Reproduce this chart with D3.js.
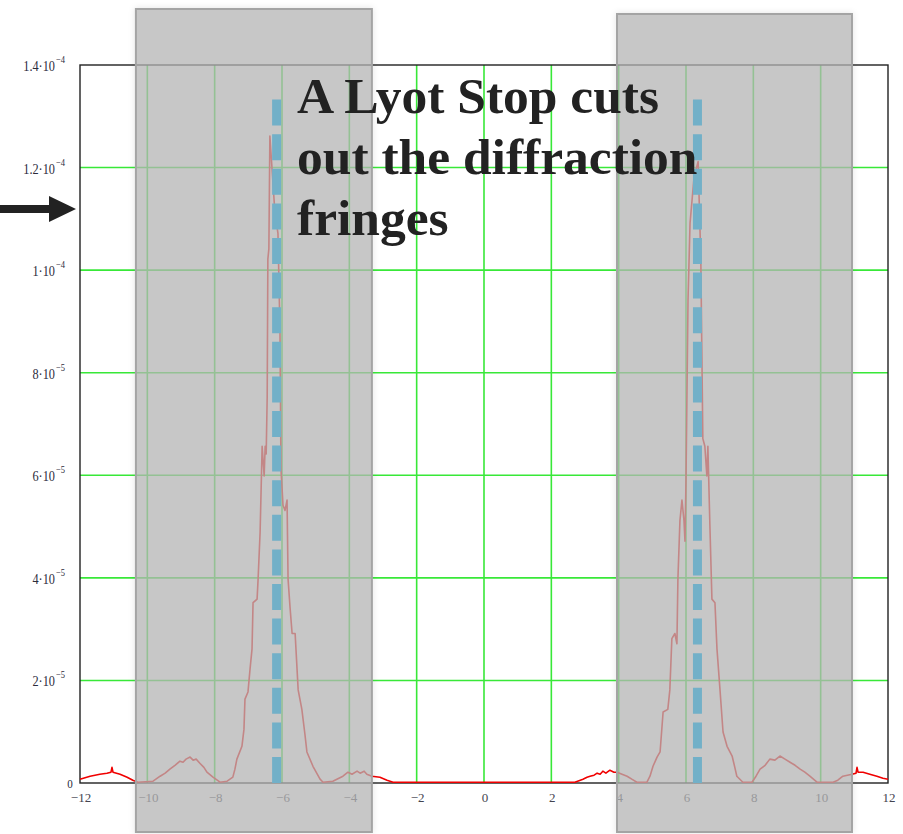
<!DOCTYPE html>
<html>
<head>
<meta charset="utf-8">
<script src="https://cdn.jsdelivr.net/npm/d3@7"></script>
<style>
  html, body { margin: 0; padding: 0; background: #fff; }
  svg { display: block; }
</style>
</head>
<body>
<div id="chart"></div>
<script>
// Pupil-plane intensity profile after the focal-plane mask
const positions = [
  -12.00, -11.70, -11.41, -11.20, -11.08, -11.05, -11.02, -10.81, -10.60, -10.43, -10.28,
  -9.83, -9.62, -9.47, -9.33, -9.18, -9.03, -8.94, -8.85, -8.73, -8.64, -8.55, -8.44, -8.32, -8.23, -8.05,
  -7.84, -7.63, -7.46, -7.40, -7.34, -7.19, -7.13, -7.10, -7.01, -6.95, -6.89, -6.86, -6.74, -6.71, -6.65,
  -6.59, -6.53, -6.50, -6.47, -6.44, -6.42, -6.39, -6.36, -6.30, -6.21, -6.12, -6.06, -6.03, -5.97, -5.91,
  -5.85, -5.82, -5.76, -5.70, -5.61, -5.52, -5.41, -5.32, -5.26, -5.08, -4.87, -4.78, -4.49, -4.19, -4.04,
  -3.92, -3.77, -3.68, -3.56, -3.48, -3.33, -3.09, -2.88, -2.70,
  2.70, 2.94, 3.06, 3.15, 3.27, 3.36, 3.45, 3.53, 3.62, 3.74, 3.86, 3.95, 4.10, 4.25, 4.39, 4.54,
  4.84, 4.93, 5.02, 5.14, 5.23, 5.32, 5.46, 5.52, 5.58, 5.67, 5.73, 5.76, 5.82, 5.88, 5.94, 5.97,
  6.00, 6.06, 6.12, 6.24, 6.36, 6.44, 6.50, 6.56, 6.62, 6.65, 6.71, 6.77, 6.86, 6.92, 7.01, 7.10,
  7.22, 7.37, 7.45, 7.51, 7.69, 7.96, 8.08, 8.20, 8.35, 8.49, 8.64, 8.79, 8.94, 9.09, 9.24, 9.39,
  9.53, 9.68, 9.89, 10.37, 10.51, 10.66, 10.93, 11.05, 11.08, 11.11, 11.26, 11.46, 11.67, 11.85, 12.00
];
const intensity = [
  0.59e-6, 1.17e-6, 1.56e-6, 1.76e-6, 1.95e-6, 2.9e-6, 1.95e-6, 1.56e-6, 0.98e-6, 0.39e-6, 0,
  0.2e-6, 1.17e-6, 1.76e-6, 2.54e-6, 3.3e-6, 4.1e-6, 3.9e-6, 4.5e-6, 4.9e-6, 4.3e-6, 4.5e-6, 3.7e-6, 2.9e-6, 1.95e-6, 0.98e-6,
  0, 0.2e-6, 0.98e-6, 2.5e-6, 4.5e-6, 7.0e-6, 1.03e-5, 1.62e-5, 1.76e-5, 2.2e-5, 2.6e-5, 3.5e-5, 3.57e-5, 3.96e-5, 4.88e-5,
  6.55e-5, 5.97e-5, 6.55e-5, 6.4e-5, 7.5e-5, 1.02e-4, 1.04e-4, 1.26e-4, 1.2e-4, 1.11e-4, 1.07e-4, 8.8e-5, 6.1e-5, 5.4e-5, 5.3e-5,
  5.5e-5, 3.96e-5, 3.4e-5, 2.9e-5, 2.9e-5, 1.8e-5, 1.42e-5, 9.4e-6, 5.9e-6, 3.1e-6, 0.59e-6, 0, 0.2e-6, 1.17e-6, 1.95e-6,
  1.56e-6, 2.15e-6, 1.76e-6, 2.15e-6, 1.56e-6, 1.17e-6, 0.98e-6, 0.39e-6, 0,
  0, 0.59e-6, 0.98e-6, 1.17e-6, 1.37e-6, 1.76e-6, 1.56e-6, 2.15e-6, 1.76e-6, 2.34e-6, 1.95e-6, 1.95e-6, 1.56e-6, 1.17e-6, 0.59e-6, 0,
  0, 1.17e-6, 3.1e-6, 4.9e-6, 5.9e-6, 1.37e-5, 1.42e-5, 1.8e-5, 2.8e-5, 2.9e-5, 2.7e-5, 3.96e-5, 5.1e-5, 5.5e-5, 5.1e-5, 4.7e-5,
  5.9e-5, 9.4e-5, 1.09e-4, 1.18e-4, 1.21e-4, 1.02e-4, 6.7e-5, 6.55e-5, 5.97e-5, 6.55e-5, 5.0e-5, 3.57e-5, 3.5e-5, 2.6e-5, 1.8e-5, 9.8e-6,
  7.0e-6, 5.1e-6, 2.9e-6, 1.17e-6, 0, 0, 1.17e-6, 2.54e-6, 3.3e-6, 4.5e-6, 4.3e-6, 5.1e-6, 4.5e-6, 3.9e-6, 3.3e-6, 2.54e-6,
  1.95e-6, 1.17e-6, 0, 0, 0.39e-6, 1.17e-6, 1.56e-6, 1.76e-6, 2.9e-6, 1.95e-6, 1.95e-6, 1.56e-6, 1.17e-6, 0.78e-6, 0.59e-6
];

// Axis ticks
const xTicks = [-12, -10, -8, -6, -4, -2, 0, 2, 4, 6, 8, 10, 12];
const yTicks = [0, 2e-5, 4e-5, 6e-5, 8e-5, 1e-4, 1.2e-4, 1.4e-4];

// Lyot stop: blocked regions and the pupil-edge markers
const blockedFrom = [-10.34, 3.95];
const blockedTo = [-3.33, 10.93];
const edgeMarks = [-6.16, 6.34];
const edgeMarkTop = 1.345e-4;

const noteLines = ["A Lyot Stop cuts", "out the diffraction", "fringes"];

const W = 903, H = 834;
const M = { left: 80, right: 888, top: 65, bottom: 783 };

const svg = d3.select("#chart").append("svg")
  .attr("width", W).attr("height", H)
  .style("background", "#fff");

const defs = svg.append("defs");
const shadow = defs.append("filter").attr("id", "soft")
  .attr("x", "-10%").attr("y", "-5%").attr("width", "120%").attr("height", "110%");
shadow.append("feDropShadow").attr("dx", 0).attr("dy", 0)
  .attr("stdDeviation", 3).attr("flood-color", "#000").attr("flood-opacity", 0.12);

const x = d3.scaleLinear().domain([-12, 12]).range([M.left, M.right]);
const y = d3.scaleLinear().domain([0, 1.4e-4]).range([M.bottom, M.top]);

// Grid
const gridColor = "#38e838";
svg.append("g").selectAll("line").data(xTicks.slice(1, -1)).join("line")
  .attr("x1", d => x(d)).attr("x2", d => x(d))
  .attr("y1", M.top).attr("y2", M.bottom)
  .attr("stroke", gridColor).attr("stroke-width", 1.6);
svg.append("g").selectAll("line").data(yTicks.slice(1, -1)).join("line")
  .attr("x1", M.left).attr("x2", M.right)
  .attr("y1", d => y(d)).attr("y2", d => y(d))
  .attr("stroke", gridColor).attr("stroke-width", 1.6);

// Frame
svg.append("rect")
  .attr("x", M.left).attr("y", M.top)
  .attr("width", M.right - M.left).attr("height", M.bottom - M.top)
  .attr("fill", "none").attr("stroke", "#222").attr("stroke-width", 1.4);

// Intensity curve
const pts = positions.map((p, i) => [p, intensity[i]]);
svg.append("path")
  .datum(pts)
  .attr("fill", "none")
  .attr("stroke", "#f00000")
  .attr("stroke-width", 1.6)
  .attr("stroke-linejoin", "round")
  .attr("d", d3.line().x(d => x(d[0])).y(d => y(d[1]) - 0.8));

// Y tick labels: mantissa·10 with raised exponent
const yLab = svg.append("g")
  .attr("font-family", "'Liberation Serif', 'Times New Roman', serif")
  .attr("fill", "#2b2b3b");
yTicks.forEach(v => {
  const gy = y(v);
  if (v === 0) {
    yLab.append("text")
      .attr("transform", `translate(70,${gy + 5}) scale(0.85,1)`)
      .attr("text-anchor", "middle").attr("font-size", 13).text("0");
    return;
  }
  const e = Math.floor(Math.log10(v) + 1e-9);
  const m = +(v / Math.pow(10, e)).toFixed(1);
  yLab.append("text")
    .attr("transform", `translate(55,${gy + 6}) scale(0.82,1)`)
    .attr("text-anchor", "end").attr("font-size", 15)
    .text(`${m}\u00b710`);
  yLab.append("text")
    .attr("transform", `translate(56,${gy - 2}) scale(0.85,1)`)
    .attr("text-anchor", "start").attr("font-size", 10)
    .text(`\u2212${-e}`);
});

// X tick labels
svg.append("g")
  .attr("font-family", "'Liberation Serif', 'Times New Roman', serif")
  .attr("font-size", 13).attr("fill", "#44444f")
  .selectAll("text").data(xTicks).join("text")
  .attr("x", d => x(d) + 1).attr("y", 802)
  .attr("text-anchor", "middle")
  .text(d => d < 0 ? `\u2212${-d}` : `${d}`);

// Lyot stop blocked regions
svg.append("g").selectAll("rect").data(blockedFrom).join("rect")
  .attr("x", d => x(d))
  .attr("y", (d, i) => i === 0 ? 9 : 14)
  .attr("width", (d, i) => x(blockedTo[i]) - x(d))
  .attr("height", (d, i) => 832 - (i === 0 ? 9 : 14))
  .attr("fill", "#b6b6b6").attr("fill-opacity", 0.72)
  .attr("stroke", "#a4a4a4").attr("stroke-width", 2)
  .attr("filter", "url(#soft)");

// Pupil-edge markers
svg.append("g").selectAll("line").data(edgeMarks).join("line")
  .attr("x1", d => x(d)).attr("x2", d => x(d))
  .attr("y1", y(0)).attr("y2", y(edgeMarkTop))
  .attr("stroke", "#72b0c8").attr("stroke-width", 9)
  .attr("stroke-dasharray", "26 8.6");

// Annotation
const note = svg.append("text")
  .attr("font-family", "'Liberation Serif', 'Times New Roman', serif")
  .attr("font-weight", "bold").attr("font-size", 51.5).attr("fill", "#222");
noteLines.forEach((t, i) => {
  note.append("tspan").attr("x", 297).attr("y", 113 + i * 61).text(t);
});

// Pointer arrow
svg.append("path")
  .attr("d", "M0,205 L49,205 L49,196 L76,209 L49,222 L49,213 L0,213 Z")
  .attr("fill", "#222");
</script>
</body>
</html>
